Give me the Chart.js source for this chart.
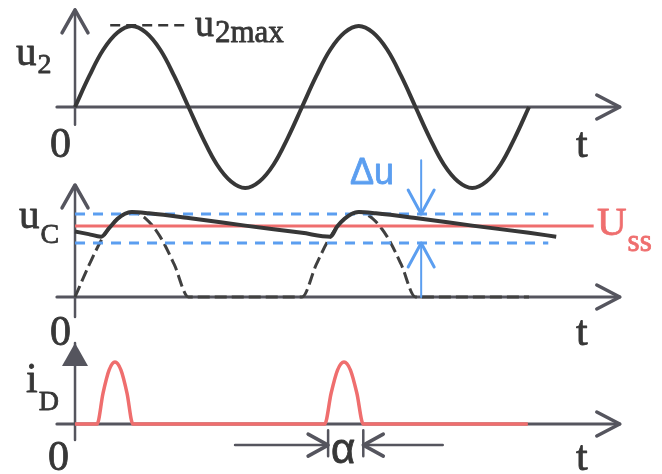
<!DOCTYPE html>
<html lang="en">
<head>
<meta charset="UTF-8">
<title>u2 / uC / iD</title>
<script src="https://cdn.jsdelivr.net/npm/chart.js"></script>
<style>
  body { margin: 0; background: #fff; }
  canvas { display: block; }
</style>
</head>
<body>
<canvas id="grafico" width="662" height="474"></canvas>
<script>
// time in ms (one period = 20 ms), voltages relative to u2max, current relative to peak

// u2 : transformer voltage
const tempoU2 = [0, 1.25, 2.5, 3.75, 5, 6.25, 7.5, 8.75, 10, 11.25, 12.5, 13.75, 15, 16.25, 17.5, 18.75,
                 20, 21.25, 22.5, 23.75, 25, 26.25, 27.5, 28.75, 30, 31.25, 32.5, 33.75, 35, 36.25, 37.5, 38.75, 40];
const u2 = [0, 0.38, 0.71, 0.92, 1, 0.92, 0.71, 0.38, 0, -0.38, -0.71, -0.92, -1, -0.92, -0.71, -0.38,
            0, 0.38, 0.71, 0.92, 1, 0.92, 0.71, 0.38, 0, -0.38, -0.71, -0.92, -1, -0.92, -0.71, -0.38, 0];

// half wave without capacitor (dashed)
const tempoMeiaOnda = [0, 1.25, 2.5, 3.75, 5, 6.25, 7.5, 8.75, 10, 20, 21.25, 22.5, 23.75, 25, 26.25, 27.5, 28.75, 30, 40];
const meiaOnda = [0, 0.38, 0.71, 0.92, 1, 0.92, 0.71, 0.38, 0, 0, 0.38, 0.71, 0.92, 1, 0.92, 0.71, 0.38, 0, 0];

// uC : capacitor voltage
const tempoUC = [0, 1.2, 2.3, 3.0, 3.75, 4.4, 5, 6.5, 10, 15, 20, 22.5, 23.1, 23.75, 24.4, 25, 26.5, 30, 35, 40, 42.4];
const uC = [0.77, 0.74, 0.71, 0.81, 0.92, 0.98, 1, 0.985, 0.93, 0.84, 0.755, 0.71, 0.83, 0.92, 0.98, 1, 0.985, 0.93, 0.84, 0.755, 0.71];

// Uss and ripple limits
const uss = 0.835;
const rippleMax = 0.976;
const rippleMin = 0.635;
const fimUss = 45.7;
const fimRipple = 41.7;

// iD : diode current pulses
const tempoID = [0, 1.94, 2.47, 3.0, 3.52, 4.05, 4.58, 5.1, 22.0, 22.57, 23.13, 23.7, 24.27, 24.83, 25.4, 39.9];
const iD = [0, 0, 0.5, 0.87, 1, 0.87, 0.5, 0, 0, 0.5, 0.87, 1, 0.87, 0.5, 0, 0];

// alpha: start and end of conduction
const alfa = [22.3, 25.4];

const cinza = '#373737';
const cinzaEixo = '#55555e';
const vermelho = '#ef6e6e';
const azul = '#5b9ef0';

function pontos(xs, ys) {
    return xs.map((x, i) => ({ x: x, y: ys[i] }));
}
function linha(x1, x2, y) {
    return [{ x: x1, y: y }, { x: x2, y: y }];
}

const data = {
    datasets: [
        {
            // u2
            data: pontos(tempoU2, u2),
            yAxisID: 'yU2',
            borderColor: cinza,
            borderWidth: 4,
            tension: 0.4,
            order: 0
        },
        {
            // dashed u2max mark
            data: linha(3.1, 9.7, 1.01),
            yAxisID: 'yU2',
            borderColor: cinza,
            borderWidth: 2.5,
            borderDash: [10, 6],
            order: 1
        },
        {
            // uC
            data: pontos(tempoUC, uC),
            yAxisID: 'yUC',
            borderColor: cinza,
            borderWidth: 4,
            cubicInterpolationMode: 'monotone',
            order: 0
        },
        {
            // Uss
            data: linha(0, fimUss, uss),
            yAxisID: 'yUC',
            borderColor: vermelho,
            borderWidth: 3,
            order: 1
        },
        {
            data: linha(0, fimRipple, rippleMax),
            yAxisID: 'yUC',
            borderColor: azul,
            borderWidth: 3,
            borderDash: [10, 8],
            order: 2
        },
        {
            data: linha(0, fimRipple, rippleMin),
            yAxisID: 'yUC',
            borderColor: azul,
            borderWidth: 3,
            borderDash: [10, 8],
            order: 2
        },
        {
            // half wave
            data: pontos(tempoMeiaOnda, meiaOnda),
            yAxisID: 'yUC',
            borderColor: '#404040',
            borderWidth: 3,
            borderDash: [12, 5],
            cubicInterpolationMode: 'monotone',
            order: 3
        },
        {
            // iD
            data: pontos(tempoID, iD),
            yAxisID: 'yID',
            borderColor: vermelho,
            borderWidth: 3.5,
            cubicInterpolationMode: 'monotone',
            order: 0
        }
    ]
};

// arrow heads
function ponta(ctx, x, y, dx, dy, comp, meia, cheia) {
    const px = -dy, py = dx;
    ctx.beginPath();
    ctx.moveTo(x - dx * comp + px * meia, y - dy * comp + py * meia);
    ctx.lineTo(x, y);
    ctx.lineTo(x - dx * comp - px * meia, y - dy * comp - py * meia);
    if (cheia) {
        ctx.closePath();
        ctx.fill();
    } else {
        ctx.stroke();
    }
}

const eixos = [
    { y: 'yU2', de: -0.22, ate: 1.2, cheia: false },
    { y: 'yUC', de: -0.235, ate: 1.318, cheia: false },
    { y: 'yID', de: -0.258, ate: 1.306, cheia: true }
];
const eixoT = [-1.6, 48.0];

const textos = [
    { t: 'u', s: '2', x: 16, y: 65, f: 41, fs: 28, dy: 8, cor: cinza, fam: 'Liberation Serif' },
    { t: 'u', s: '2max', x: 195, y: 36, f: 38, fs: 31, dy: 6, cor: cinza, fam: 'Liberation Serif' },
    { t: '0', x: 50, y: 157, f: 42, cor: cinza, fam: 'Liberation Serif' },
    { t: 't', x: 576, y: 157, f: 42, cor: cinza, fam: 'Liberation Serif' },
    { t: 'u', s: 'C', x: 19, y: 228, f: 41, fs: 28, dy: 15, cor: cinza, fam: 'Liberation Serif' },
    { t: '0', x: 50, y: 345, f: 42, cor: cinza, fam: 'Liberation Serif' },
    { t: 't', x: 576, y: 345, f: 42, cor: cinza, fam: 'Liberation Serif' },
    { t: 'U', s: 'ss', x: 597, y: 235, f: 41, fs: 31, dy: 16, cor: vermelho, fam: 'Liberation Serif' },
    { t: 'Δu', x: 350, y: 184, f: 36, cor: azul, fam: 'Liberation Sans' },
    { t: 'i', s: 'D', x: 26, y: 392, f: 42, fs: 28, dy: 18, cor: cinza, fam: 'Liberation Serif' },
    { t: '0', x: 48, y: 470, f: 42, cor: cinza, fam: 'Liberation Serif' },
    { t: 't', x: 576, y: 470, f: 42, cor: cinza, fam: 'Liberation Serif' },
    { t: 'α', x: 331, y: 463, f: 42, cor: cinza, fam: 'Liberation Sans' }
];

const desenho = {
    id: 'desenho',
    beforeDatasetsDraw(chart) {
        const ctx = chart.ctx;
        const sx = chart.scales.x;
        ctx.save();
        ctx.strokeStyle = cinzaEixo;
        ctx.fillStyle = cinzaEixo;
        ctx.lineWidth = 3;
        ctx.lineCap = 'round';
        ctx.lineJoin = 'round';
        eixos.forEach(e => {
            const sy = chart.scales[e.y];
            const x0 = sx.getPixelForValue(0);
            const y0 = sy.getPixelForValue(0);
            const xa = sx.getPixelForValue(eixoT[0]);
            const xb = sx.getPixelForValue(eixoT[1]);
            const ya = sy.getPixelForValue(e.de);
            const yb = sy.getPixelForValue(e.ate);
            ctx.beginPath();
            ctx.moveTo(xa, y0);
            ctx.lineTo(xb, y0);
            ctx.stroke();
            ctx.lineWidth = 3.5;
            ponta(ctx, xb, y0, 1, 0, 23, 12, false);
            ctx.lineWidth = 2.5;
            ctx.beginPath();
            ctx.moveTo(x0, ya);
            ctx.lineTo(x0, yb);
            ctx.stroke();
            ctx.lineWidth = 3.5;
            ponta(ctx, x0, yb, 0, -1, 23, 13, e.cheia);
            ctx.lineWidth = 3;
        });
        ctx.restore();
    },
    afterDatasetsDraw(chart) {
        const ctx = chart.ctx;
        const sx = chart.scales.x;
        const sUC = chart.scales.yUC;
        const sID = chart.scales.yID;
        ctx.save();
        ctx.lineCap = 'round';
        ctx.lineJoin = 'round';

        // delta u arrows
        const xd = sx.getPixelForValue(30.5);
        ctx.strokeStyle = azul;
        ctx.lineWidth = 2;
        ctx.beginPath();
        ctx.moveTo(xd, sUC.getPixelForValue(1.61));
        ctx.lineTo(xd, sUC.getPixelForValue(rippleMax));
        ctx.moveTo(xd, sUC.getPixelForValue(0));
        ctx.lineTo(xd, sUC.getPixelForValue(rippleMin));
        ctx.stroke();
        ctx.lineWidth = 3;
        ponta(ctx, xd, sUC.getPixelForValue(rippleMax), 0, 1, 24, 13, false);
        ponta(ctx, xd, sUC.getPixelForValue(rippleMin), 0, -1, 24, 13, false);

        // alpha marks
        const ya = sID.getPixelForValue(-0.34);
        const xa = sx.getPixelForValue(alfa[0]);
        const xb = sx.getPixelForValue(alfa[1]);
        ctx.strokeStyle = cinzaEixo;
        ctx.lineWidth = 2.5;
        ctx.beginPath();
        ctx.moveTo(sx.getPixelForValue(14.1), ya);
        ctx.lineTo(xa, ya);
        ctx.moveTo(sx.getPixelForValue(32.4), ya);
        ctx.lineTo(xb, ya);
        ctx.moveTo(xa, sID.getPixelForValue(-0.1));
        ctx.lineTo(xa, sID.getPixelForValue(-0.52));
        ctx.moveTo(xb, sID.getPixelForValue(-0.1));
        ctx.lineTo(xb, sID.getPixelForValue(-0.52));
        ctx.stroke();
        ctx.lineWidth = 3.5;
        ponta(ctx, xa, ya, 1, 0, 20, 11, false);
        ponta(ctx, xb, ya, -1, 0, 20, 11, false);

        // labels, with a thin stroke so they look as heavy as the scan
        ctx.textBaseline = 'alphabetic';
        ctx.lineWidth = 0.8;
        textos.forEach(l => {
            ctx.fillStyle = l.cor;
            ctx.strokeStyle = l.cor;
            ctx.font = l.f + 'px "' + l.fam + '"';
            ctx.fillText(l.t, l.x, l.y);
            ctx.strokeText(l.t, l.x, l.y);
            if (l.s) {
                const w = ctx.measureText(l.t).width;
                ctx.font = l.fs + 'px "' + l.fam + '"';
                ctx.fillText(l.s, l.x + w + 1, l.y + l.dy);
                ctx.strokeText(l.s, l.x + w + 1, l.y + l.dy);
            }
        });
        ctx.restore();
    }
};

const config = {
    type: 'scatter',
    data: data,
    options: {
        responsive: false,
        animation: false,
        events: [],
        showLine: true,
        elements: {
            point: { radius: 0 },
            line: { fill: false, capBezierPoints: true }
        },
        layout: { padding: 0 },
        plugins: {
            legend: { display: false },
            tooltip: { enabled: false }
        },
        scales: {
            x: { type: 'linear', min: -6.61, max: 51.72, display: false },
            yU2: { type: 'linear', min: -4.531, max: 1.321, display: false },
            yUC: { type: 'linear', min: -2.082, max: 3.494, display: false },
            yID: { type: 'linear', min: -0.806, max: 6.839, display: false }
        }
    },
    plugins: [desenho]
};

const grafico = new Chart(document.getElementById('grafico'), config);
</script>
</body>
</html>
